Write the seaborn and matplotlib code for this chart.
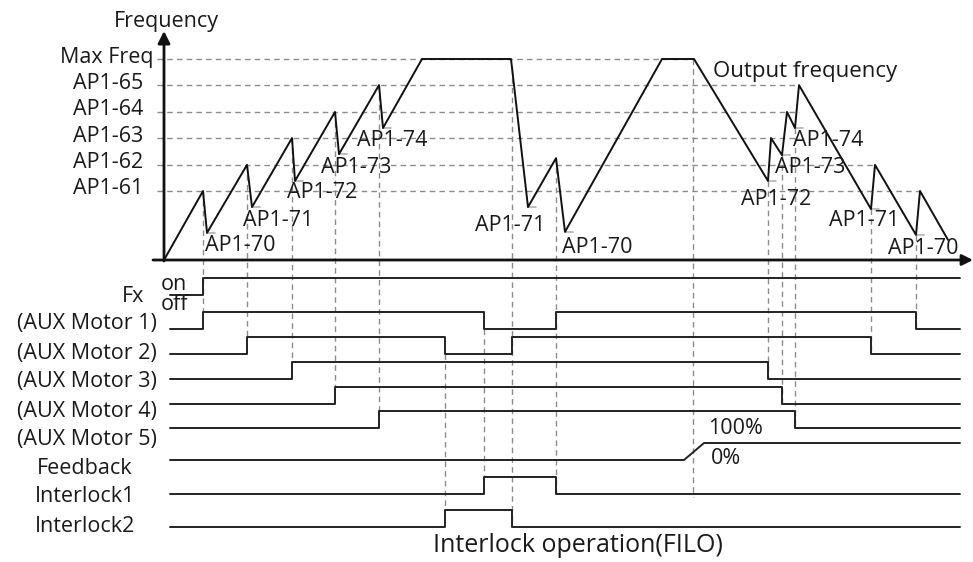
import numpy as np
import pandas as pd
import matplotlib.pyplot as plt
import seaborn as sns

# Output frequency curve: time (arbitrary units from origin) and frequency (Hz, Max Freq = 60)
curve_t = [0, 39, 43, 83, 88, 128, 131, 171, 175, 215, 219, 258, 347, 364, 392, 401,
           498, 530, 604, 607, 618, 623, 631, 635, 707, 711, 752, 756, 784]
curve_f = [0, 20.6, 8.1, 28.4, 15.8, 36.4, 23.6, 44.2, 31.6, 52.2, 39.4, 60, 60, 15.8, 30.4, 8.4,
           60, 60, 23.6, 36.4, 31.3, 44.2, 39.4, 52.2, 15.2, 28.4, 7.5, 20.6, 6.0]

level_names = ["AP1-61", "AP1-62", "AP1-63", "AP1-64", "AP1-65", "Max Freq"]
level_freq = [20.6, 28.4, 36.4, 44.2, 52.2, 60]

# trough labels: (time of trough, label)
trough_t = [43, 88, 131, 175, 219, 364, 401, 604, 618, 631, 707, 752]
trough_lbl = ["AP1-70", "AP1-71", "AP1-72", "AP1-73", "AP1-74", "AP1-71", "AP1-70",
              "AP1-72", "AP1-73", "AP1-74", "AP1-71", "AP1-70"]

# digital signals: initial state and toggle times
signal_names = ["Fx", "(AUX Motor 1)", "(AUX Motor 2)", "(AUX Motor 3)", "(AUX Motor 4)",
                "(AUX Motor 5)", "Feedback", "Interlock1", "Interlock2"]
signal_toggles = {
    "Fx": [39],
    "(AUX Motor 1)": [39, 320, 392, 752],
    "(AUX Motor 2)": [83, 281, 348, 707],
    "(AUX Motor 3)": [128, 604],
    "(AUX Motor 4)": [171, 618],
    "(AUX Motor 5)": [215, 631],
    "Feedback": [520],
    "Interlock1": [320, 392],
    "Interlock2": [281, 348],
}
T_START, T_END = 6, 796
FEEDBACK_RAMP = 20

# ---- layout (pixel space of the figure) ----
W, H = 973, 562
X0, BASE = 164, 260
FSCALE = 201 / 60
row_low = {"Fx": 295, "(AUX Motor 1)": 329, "(AUX Motor 2)": 354, "(AUX Motor 3)": 379,
           "(AUX Motor 4)": 404, "(AUX Motor 5)": 428, "Feedback": 460,
           "Interlock1": 494, "Interlock2": 527}
HIGH = 17
label_y = {"Fx": 296, "(AUX Motor 1)": 324, "(AUX Motor 2)": 353, "(AUX Motor 3)": 382,
           "(AUX Motor 4)": 411, "(AUX Motor 5)": 439, "Feedback": 468,
           "Interlock1": 497, "Interlock2": 526}

trough_lbl_off = [(-2, 13), (-9, 13), (-8, 12), (-18, 13), (-26, 12), (-53, 18), (-3, 16),
                  (-27, 19), (-7, 12), (-2, 12), (-42, 11), (-28, 14)]

sns.set_theme(style="white")
plt.rcParams['font.family'] = ['Open Sans', 'DejaVu Sans']

fig = plt.figure(figsize=(9.73, 5.62), dpi=100)
ax = fig.add_axes([0, 0, 1, 1])
ax.set_xlim(0, W)
ax.set_ylim(H, 0)
ax.axis('off')

def px(t):
    return X0 + np.asarray(t, dtype=float)

def py(f):
    return BASE - np.asarray(f, dtype=float) * FSCALE

FS = 15.5
DASH = dict(color='#8c8c8c', lw=1.0, ls=(0, (4, 3)))

# frequency level gridlines and labels
ct = np.array(curve_t)
cf = np.array(curve_f)
for name, f in zip(level_names, level_freq):
    t_last = ct[cf >= f - 0.5].max()
    ax.plot([157, px(t_last)], [py(f), py(f)], zorder=1, **DASH)
    xr = 153 if name == "Max Freq" else 143
    ax.text(xr, py(f) - 2, name, ha='right', va='center', fontsize=FS, color='#1a1a1a')

# vertical guide lines: (time, top row or None for curve, bottom row, bottom at high?)
guides = [(39, None, "(AUX Motor 1)", 1), (83, None, "(AUX Motor 2)", 1),
          (128, None, "(AUX Motor 3)", 1), (171, None, "(AUX Motor 4)", 1),
          (215, None, "(AUX Motor 5)", 1), (281, "(AUX Motor 2)", "Interlock2", 1),
          (320, "(AUX Motor 1)", "Interlock1", 1), (348, None, "Interlock2", 0),
          (392, None, "Interlock1", 0), (529, None, "Interlock1", 0),
          (604, None, "(AUX Motor 3)", 0), (618, None, "(AUX Motor 4)", 0),
          (631, None, "(AUX Motor 5)", 0), (707, None, "(AUX Motor 2)", 0),
          (752, None, "(AUX Motor 1)", 0)]
for t, top, bot, hi in guides:
    y0 = py(np.interp(t, ct, cf)) if top is None else row_low[top]
    y1 = row_low[bot] - HIGH * hi
    if bot == "Interlock1" and t == 529:
        y1 += 3
    ax.plot([px(t), px(t)], [y0, y1], zorder=1, **DASH)

# output frequency curve
df = pd.DataFrame({"x": px(curve_t), "y": py(curve_f)})
sns.lineplot(data=df, x="x", y="y", sort=False, estimator=None, color='#111111', lw=1.4, ax=ax, zorder=3)

# trough marks and labels
for t, lbl, (dx, dy) in zip(trough_t, trough_lbl, trough_lbl_off):
    f = np.interp(t, ct, cf)
    ax.plot([px(t), px(t) + 8], [py(f), py(f)], color='#b0b0b0', lw=1.2, zorder=2)
    ax.text(px(t) + dx, py(f) + dy, lbl, ha='left', va='center', fontsize=FS, color='#1a1a1a', zorder=4)

# axes arrows
ax.annotate('', xy=(X0, 31), xytext=(X0, BASE + 1),
            arrowprops=dict(arrowstyle='-|>', lw=2, color='#111111', mutation_scale=18, shrinkA=0, shrinkB=0))
ax.annotate('', xy=(W, BASE), xytext=(153, BASE),
            arrowprops=dict(arrowstyle='-|>', lw=2, color='#111111', mutation_scale=16, shrinkA=0, shrinkB=0))
ax.text(166, 21, "Frequency", ha='center', va='center', fontsize=FS, color='#1a1a1a')
ax.text(713, 72, "Output frequency", ha='left', va='center', fontsize=FS + 0.5, color='#1a1a1a')

# digital signals
for name in signal_names:
    low = row_low[name]
    xs, ys = [px(T_START)], [low]
    state = 0
    for t in signal_toggles[name]:
        xs.append(px(t))
        ys.append(low - HIGH * state)
        if name == "Feedback":
            state = 1
            xs.append(px(t + FEEDBACK_RAMP))
        else:
            state = 1 - state
            xs.append(px(t))
        ys.append(low - HIGH * state)
    xs.append(px(T_END))
    ys.append(low - HIGH * state)
    sdf = pd.DataFrame({"x": xs, "y": ys})
    sns.lineplot(data=sdf, x="x", y="y", sort=False, estimator=None, color='#222222', lw=1.4, ax=ax, zorder=3)
    if name == "Fx":
        ax.text(133, label_y[name], name, ha='center', va='center', fontsize=FS, color='#1a1a1a')
    elif name.startswith("(AUX"):
        ax.text(157, label_y[name], name, ha='right', va='center', fontsize=FS, color='#1a1a1a')
    else:
        ax.text(85, label_y[name], name, ha='center', va='center', fontsize=FS, color='#1a1a1a')

ax.text(161, 284, "on", ha='left', va='center', fontsize=FS, color='#1a1a1a')
ax.text(161, 305, "off", ha='left', va='center', fontsize=FS, color='#1a1a1a')
ax.text(708, 429, "100%", ha='left', va='center', fontsize=FS, color='#1a1a1a')
ax.text(711, 458, "0%", ha='left', va='center', fontsize=FS, color='#1a1a1a')
ax.text(578, 546, "Interlock operation(FILO)", ha='center', va='center', fontsize=18, color='#1a1a1a')

ax.set_xlabel('')
ax.set_ylabel('')
fig.savefig("out.png", dpi=100)
